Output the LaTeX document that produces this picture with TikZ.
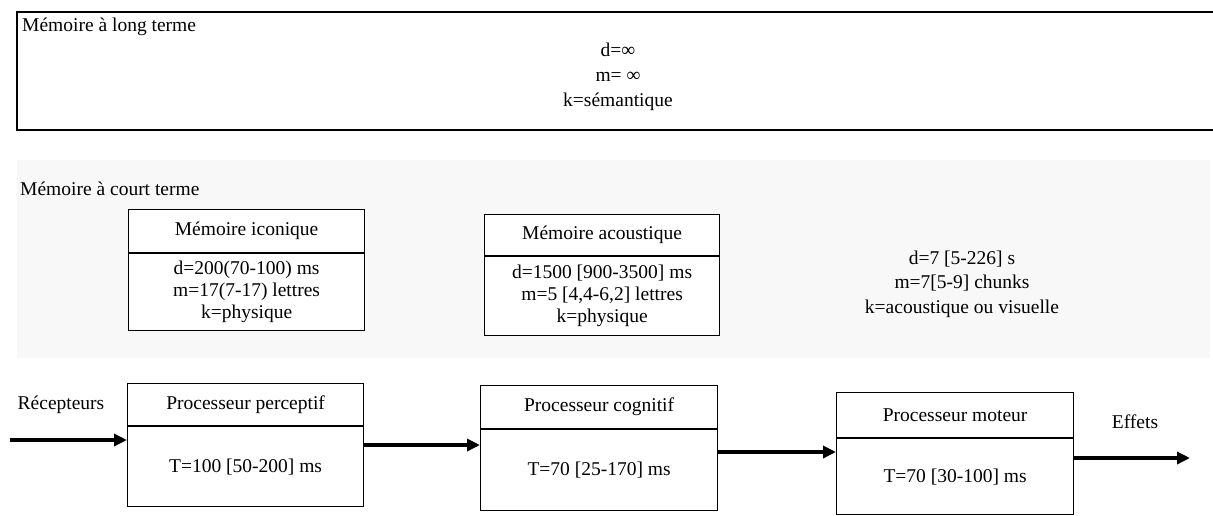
\documentclass[tikz,border=0pt]{standalone}
\usepackage{fontspec}
\setmainfont{Liberation Serif}
\usetikzlibrary{arrows.meta}
\definecolor{stmgray}{HTML}{F8F8F8}

\tikzset{
  cell/.style={draw, fill=white, line width=1.2pt, inner sep=0pt, anchor=north west, align=center},
  flow/.style={line width=3.5pt, -{Triangle[length=13pt,width=12pt]}},
}

\begin{document}
\begin{tikzpicture}[x=1pt, y=-1pt, font=\fontsize{19.5}{22}\selectfont]
  \useasboundingbox (0,0) rectangle (1213,515);
  % long-term memory
  \draw[line width=1.6pt] (1213,12) -- (17,12) -- (17,130) -- (1213,130);
  \node[anchor=base west, inner sep=0pt] (ltmlabel) at (22,31) {Mémoire à long terme};
  \node[align=center, font=\fontsize{19.5}{25}\selectfont] (ltmdata) at (618,77) {d=∞\\m= ∞\\k=sémantique};
  % short-term memory
  \fill[stmgray] (17,160) rectangle (1210,358);
  \node[anchor=base west, inner sep=0pt] (stmlabel) at (20,195) {Mémoire à court terme};
  \node[cell, minimum width=236pt, minimum height=43pt] (ihead) at (128,209) {Mémoire iconique};
  \node[cell, minimum width=236pt, minimum height=77pt] (ibody) at (ihead.south west) {d=200(70-100) ms\\m=17(7-17) lettres\\k=physique};
  \node[cell, minimum width=235pt, minimum height=41pt] (ahead) at (484,214) {Mémoire acoustique};
  \node[cell, minimum width=235pt, minimum height=79pt] (abody) at (ahead.south west) {d=1500 [900-3500] ms\\m=5 [4,4-6,2] lettres\\k=physique};
  \node[align=center, font=\fontsize{19.5}{24.5}\selectfont] (stmdata) at (962,284) {d=7 [5-226] s\\m=7[5-9] chunks\\k=acoustique ou visuelle};
  % processors
  \node[cell, minimum width=236pt, minimum height=42pt] (phead) at (127,383) {Processeur perceptif};
  \node[cell, minimum width=236pt, minimum height=80pt] (pbody) at (phead.south west) {T=100 [50-200] ms};
  \node[cell, minimum width=237pt, minimum height=43pt] (chead) at (480,385) {Processeur cognitif};
  \node[cell, minimum width=237pt, minimum height=81pt] (cbody) at (chead.south west) {T=70 [25-170] ms};
  \node[cell, minimum width=237pt, minimum height=45pt] (mhead) at (836,392) {Processeur moteur};
  \node[cell, minimum width=237pt, minimum height=76pt] (mbody) at (mhead.south west) {T=70 [30-100] ms};
  \node (recept) at (61,405) {Récepteurs};
  \node (effets) at (1135,422) {Effets};
  \coordinate (rin) at (10,440);
  \coordinate (eout) at (1190,458);
  \draw[flow] (rin) -- (rin -| pbody.west);
  \draw[flow] (pbody.east |- 0,445) -- (cbody.west |- 0,445);
  \draw[flow] (cbody.east |- 0,452) -- (mbody.west |- 0,452);
  \draw[flow] (mbody.east |- eout) -- (eout);
\end{tikzpicture}
\end{document}
